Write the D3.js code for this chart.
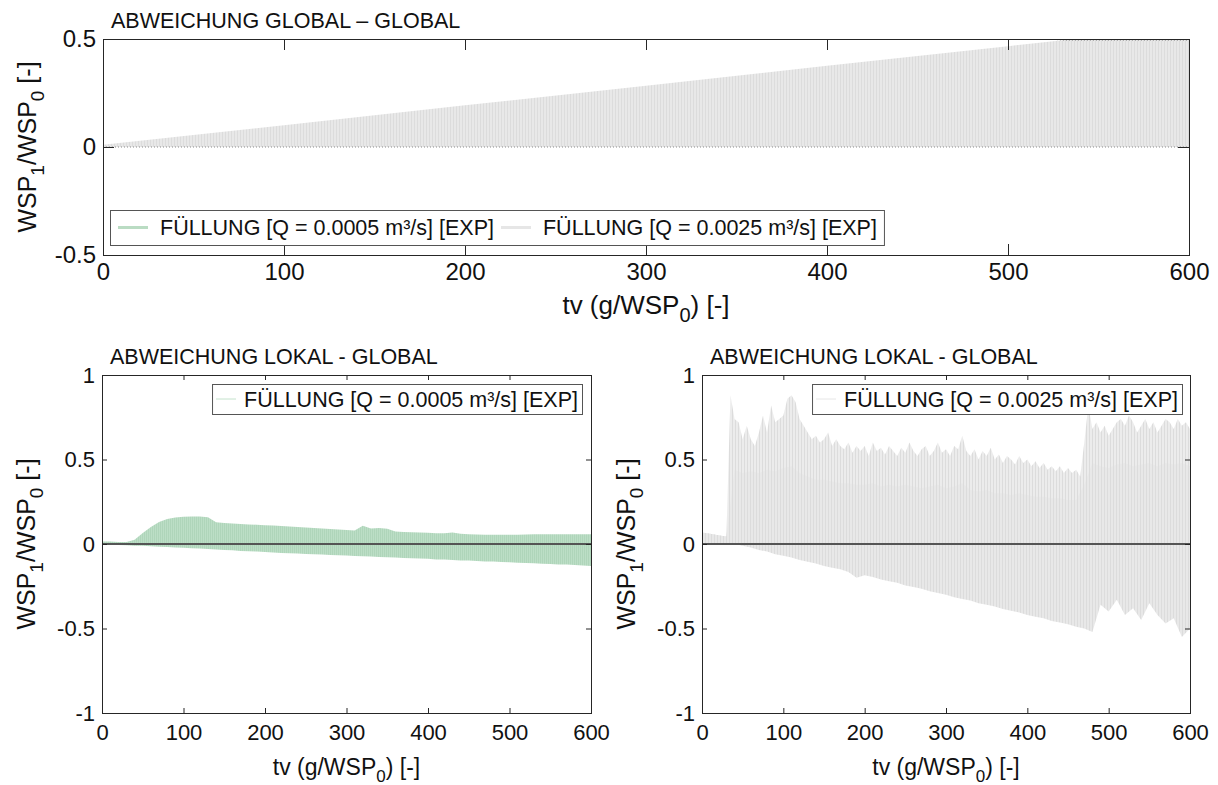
<!DOCTYPE html>
<meta charset="utf-8">
<title>Abweichung WSP</title>

<style>
body { margin: 0; background: #fff; }
svg { font-family: "Liberation Sans", Arial, Helvetica, sans-serif; }
.frame { fill: none; stroke: #262626; stroke-width: 1; }
.axis path.domain { display: none; }
.axis line { stroke: #262626; }
.axis text { font-family: "Liberation Sans", Arial, sans-serif; fill: #111; }
.lab { fill: #111; }
.ttl { font-size: 21.5px; fill: #111; }
.leg { font-size: 21.5px; fill: #111; }
</style>

<body>
<svg width="1218" height="785"></svg>

<script src="https://d3js.org/d3.v7.min.js"></script>

<script>

// ---- data ----
var xTicks = [0, 100, 200, 300, 400, 500, 600];
var yTicksTop = [-0.5, 0, 0.5];
var yTicksBottom = [-1, -0.5, 0, 0.5, 1];
var legendQ05 = "FÜLLUNG [Q = 0.0005 m³/s] [EXP]";
var legendQ25 = "FÜLLUNG [Q = 0.0025 m³/s] [EXP]";

// top panel: global deviation, Q = 0.0025 (oscillates between 0 and a rising envelope)
var tvGlobal     = [0, 100, 200, 300, 400, 500, 540, 600];
var globalHiQ25  = [0.010, 0.101, 0.193, 0.284, 0.376, 0.467, 0.503, 0.558];
var globalLoQ25  = [0, 0, 0, 0, 0, 0, 0, 0];

// bottom panels sampled every 10 (tv10) / every 5 (tv5)
var tv10 = d3.range(0, 601, 10);
var tv5 = d3.range(0, 601, 5);

// bottom left: local deviation, Q = 0.0005
var lokalHiQ05 = [
  0.015, 0.015, 0.012, 0.012, 0.025, 0.065, 0.100, 0.130, 0.148, 0.157,
  0.161, 0.163, 0.162, 0.158, 0.128, 0.124, 0.121, 0.118, 0.116, 0.114,
  0.111, 0.109, 0.107, 0.104, 0.101, 0.098, 0.095, 0.092, 0.089, 0.086,
  0.083, 0.080, 0.108, 0.092, 0.095, 0.090, 0.074, 0.071, 0.069, 0.068,
  0.066, 0.064, 0.063, 0.068, 0.060, 0.058, 0.056, 0.055, 0.054, 0.054,
  0.054, 0.055, 0.056, 0.057, 0.058, 0.058, 0.057, 0.058, 0.058, 0.057,
  0.058];
var lokalLoQ05 = [
  -0.005, -0.004, -0.006, -0.008, -0.010, -0.011, -0.014, -0.016, -0.018, -0.021,
  -0.022, -0.025, -0.027, -0.029, -0.032, -0.035, -0.037, -0.041, -0.043, -0.045,
  -0.048, -0.050, -0.053, -0.054, -0.056, -0.059, -0.060, -0.062, -0.065, -0.066,
  -0.068, -0.071, -0.072, -0.074, -0.077, -0.078, -0.080, -0.083, -0.084, -0.086,
  -0.088, -0.091, -0.092, -0.094, -0.097, -0.098, -0.100, -0.103, -0.104, -0.106,
  -0.108, -0.111, -0.112, -0.114, -0.117, -0.118, -0.121, -0.122, -0.124, -0.127,
  -0.130];

// bottom right: local deviation, Q = 0.0025
var lokalLoQ25 = [
  0, 0, 0, 0, 0, -0.010, -0.020, -0.035, -0.045, -0.060,
  -0.070, -0.080, -0.095, -0.105, -0.115, -0.130, -0.140, -0.150, -0.165, -0.200,
  -0.185, -0.195, -0.210, -0.220, -0.230, -0.245, -0.255, -0.265, -0.280, -0.290,
  -0.300, -0.315, -0.325, -0.335, -0.350, -0.360, -0.370, -0.385, -0.395, -0.405,
  -0.420, -0.430, -0.440, -0.455, -0.465, -0.475, -0.490, -0.500, -0.520, -0.360,
  -0.400, -0.330, -0.420, -0.380, -0.450, -0.350, -0.420, -0.470, -0.440, -0.550,
  -0.500];
var lokalMidQ25 = [
  0.068, 0.060, 0.052, 0.045, 0.44, 0.42, 0.43, 0.42, 0.44, 0.43,
  0.45, 0.46, 0.42, 0.40, 0.38, 0.38, 0.37, 0.36, 0.36, 0.35,
  0.35, 0.36, 0.34, 0.35, 0.34, 0.35, 0.34, 0.33, 0.34, 0.35,
  0.33, 0.34, 0.36, 0.32, 0.31, 0.32, 0.30, 0.30, 0.29, 0.30,
  0.29, 0.28, 0.28, 0.27, 0.27, 0.26, 0.26, 0.35, 0.48, 0.46,
  0.45, 0.47, 0.48, 0.46, 0.47, 0.48, 0.46, 0.48, 0.47, 0.48,
  0.46];
var lokalHiQ25 = [
  0.068, 0.064, 0.060, 0.056, 0.052, 0.048, 0.044, 0.88, 0.74, 0.72,
  0.62, 0.70, 0.62, 0.58, 0.66, 0.76, 0.66, 0.82, 0.72, 0.74,
  0.76, 0.86, 0.88, 0.84, 0.74, 0.70, 0.66, 0.62, 0.64, 0.60,
  0.62, 0.66, 0.58, 0.62, 0.58, 0.56, 0.60, 0.54, 0.58, 0.55,
  0.58, 0.52, 0.60, 0.55, 0.57, 0.53, 0.58, 0.55, 0.52, 0.57,
  0.54, 0.60, 0.55, 0.52, 0.56, 0.58, 0.52, 0.55, 0.60, 0.54,
  0.56, 0.52, 0.58, 0.56, 0.64, 0.55, 0.52, 0.56, 0.50, 0.55,
  0.52, 0.57, 0.50, 0.53, 0.48, 0.52, 0.50, 0.47, 0.52, 0.48,
  0.50, 0.46, 0.49, 0.45, 0.48, 0.44, 0.46, 0.43, 0.46, 0.42,
  0.45, 0.42, 0.44, 0.40, 0.60, 0.82, 0.68, 0.72, 0.66, 0.70,
  0.64, 0.68, 0.72, 0.74, 0.70, 0.76, 0.72, 0.66, 0.70, 0.74,
  0.68, 0.72, 0.66, 0.70, 0.74, 0.72, 0.68, 0.74, 0.70, 0.72,
  0.68];

var svg = d3.select("svg");
var defs = svg.append("defs");

function stripes(id, w, base, line) {
  var p = defs.append("pattern").attr("id", id).attr("patternUnits", "userSpaceOnUse")
    .attr("width", w).attr("height", 10);
  p.append("rect").attr("width", w).attr("height", 10).attr("fill", base);
  p.append("rect").attr("width", 1).attr("height", 10).attr("fill", line);
}
stripes("pGreen", 2, "#bcdec6", "#afd5ba");
stripes("pGrey", 3, "#e8e8e8", "#dcdcdc");
stripes("pGreySparse", 3, "#ececec", "#dcdcdc");

function makePanel(p) {
  var x = d3.scaleLinear().domain([0, 600]).range([p.left, p.left + p.w]);
  var y = d3.scaleLinear().domain(p.yDomain).range([p.top + p.h, p.top]);
  var g = svg.append("g");
  defs.append("clipPath").attr("id", "clip-" + p.id).append("rect")
    .attr("x", p.left).attr("y", p.top).attr("width", p.w).attr("height", p.h);
  var plot = g.append("g").attr("clip-path", "url(#clip-" + p.id + ")");
  return {x: x, y: y, g: g, plot: plot, p: p};
}

function finishPanel(pn) {
  var p = pn.p, g = pn.g, x = pn.x, y = pn.y;
  g.append("g").attr("class", "axis")
    .attr("transform", "translate(0," + (p.top + p.h) + ")")
    .call(d3.axisBottom(x).tickValues(xTicks).tickSize(-p.tick).tickPadding(p.xPad).tickFormat(function(d) { return d; }))
    .selectAll("text").style("font-size", p.tickFont + "px");
  g.append("g").attr("class", "axis")
    .attr("transform", "translate(0," + p.top + ")")
    .call(d3.axisTop(x).tickValues(xTicks).tickSize(-p.tick).tickFormat(""));
  g.append("g").attr("class", "axis")
    .attr("transform", "translate(" + p.left + ",0)")
    .call(d3.axisLeft(y).tickValues(p.yTicks).tickSize(-p.tick).tickPadding(7).tickFormat(function(d) { return String(d); }))
    .selectAll("text").style("font-size", p.tickFont + "px");
  g.append("g").attr("class", "axis")
    .attr("transform", "translate(" + (p.left + p.w) + ",0)")
    .call(d3.axisRight(y).tickValues(p.yTicks).tickSize(-p.tick).tickFormat(""));
  g.append("rect").attr("class", "frame")
    .attr("x", p.left + 0.5).attr("y", p.top + 0.5).attr("width", p.w).attr("height", p.h);

  // title
  g.append("text").attr("class", "ttl").attr("x", p.left + 8).attr("y", p.top - 11).text(p.title);

  // x label
  var fs = p.xLabFont, sub = Math.round(fs * 0.75);
  var tx = g.append("text").attr("class", "lab").style("font-size", fs + "px").attr("text-anchor", "middle")
    .attr("x", p.left + p.w / 2).attr("y", p.top + p.h + p.xLab);
  tx.append("tspan").text("tv (g/WSP");
  tx.append("tspan").attr("dy", fs * 0.32).style("font-size", sub + "px").text("0");
  tx.append("tspan").attr("dy", -fs * 0.32).text(") [-]");

  // y label
  var ys = 25, ysub = 19;
  var ty = g.append("text").attr("class", "lab").style("font-size", ys + "px").attr("text-anchor", "middle")
    .attr("transform", "translate(" + (p.left - 67) + "," + (p.top + p.h / 2) + ") rotate(-90)");
  ty.append("tspan").text("WSP");
  ty.append("tspan").attr("dy", 8).style("font-size", ysub + "px").text("1");
  ty.append("tspan").attr("dy", -8).text("/WSP");
  ty.append("tspan").attr("dy", 8).style("font-size", ysub + "px").text("0");
  ty.append("tspan").attr("dy", -8).text(" [-]");
}

function legend(g, x0, y0, h, o, items, alignRight) {
  var lg = g.append("g");
  var box = lg.append("rect").attr("fill", "#fff").attr("stroke", "#555").attr("stroke-width", 1);
  var cx = x0 + o.pad;
  items.forEach(function(it) {
    lg.append("line").attr("x1", cx).attr("x2", cx + o.len).attr("y1", y0 + h / 2).attr("y2", y0 + h / 2)
      .attr("stroke", it.color).attr("stroke-width", it.width);
    var t = lg.append("text").attr("class", "leg").attr("x", cx + o.len + o.gap).attr("y", y0 + h / 2 + 7.5).text(it.label);
    cx = cx + o.len + o.gap + t.node().getComputedTextLength() + o.after;
  });
  var w = cx - x0;
  box.attr("x", x0 + 0.5).attr("y", y0 + 0.5).attr("width", w).attr("height", h);
  if (alignRight) lg.attr("transform", "translate(" + (alignRight - (x0 + w)) + ",0)");
}

// ---- top panel ----
var pTop = makePanel({id: "top", left: 103, top: 39, w: 1086, h: 216, yDomain: [-0.5, 0.5], yTicks: yTicksTop,
  tick: 11, xPad: 8, xLab: 59, tickFont: 24, xLabFont: 26, title: "ABWEICHUNG GLOBAL – GLOBAL"});

var areaTop = d3.area()
  .x(function(d, i) { return pTop.x(tvGlobal[i]); })
  .y0(function(d, i) { return pTop.y(globalLoQ25[i]); })
  .y1(function(d, i) { return pTop.y(globalHiQ25[i]); });
var topPath = areaTop(globalHiQ25);
pTop.plot.append("path").attr("d", topPath).attr("fill", "url(#pGrey)");
defs.append("clipPath").attr("id", "clip-toparea").append("path").attr("d", topPath);
pTop.plot.append("line").attr("x1", pTop.x(0)).attr("x2", pTop.x(600)).attr("y1", pTop.y(0)).attr("y2", pTop.y(0))
  .attr("stroke", "#8a8a8a").attr("stroke-dasharray", "1,2");
pTop.plot.append("line").attr("clip-path", "url(#clip-toparea)")
  .attr("x1", pTop.x(0)).attr("x2", pTop.x(600)).attr("y1", pTop.y(0.5) + 1.5).attr("y2", pTop.y(0.5) + 1.5)
  .attr("stroke", "#b0b0b0").attr("stroke-dasharray", "1,2");
finishPanel(pTop);
legend(pTop.g, 110, 210, 35, {pad: 8, len: 30, gap: 12, after: 7}, [
  {label: legendQ05, color: "#badcc3", width: 3},
  {label: legendQ25, color: "#e6e6e6", width: 3}
]);

// ---- bottom left ----
var pBL = makePanel({id: "bl", left: 102, top: 375, w: 489, h: 338, yDomain: [-1, 1], yTicks: yTicksBottom,
  tick: 5, xPad: 11, xLab: 62, tickFont: 22, xLabFont: 23, title: "ABWEICHUNG LOKAL - GLOBAL"});
var areaBL = d3.area()
  .x(function(d, i) { return pBL.x(tv10[i]); })
  .y0(function(d, i) { return pBL.y(lokalLoQ05[i]); })
  .y1(function(d, i) { return pBL.y(lokalHiQ05[i]); });
pBL.plot.append("path").attr("d", areaBL(lokalHiQ05)).attr("fill", "url(#pGreen)");
pBL.plot.append("line").attr("x1", pBL.x(0)).attr("x2", pBL.x(600)).attr("y1", pBL.y(0)).attr("y2", pBL.y(0))
  .attr("stroke", "#555").attr("stroke-width", 2);
finishPanel(pBL);
legend(pBL.g, 218, 384, 30, {pad: 4, len: 20, gap: 8, after: 4},
  [{label: legendQ05, color: "#c4e2cc", width: 1}], 582);

// ---- bottom right ----
var pBR = makePanel({id: "br", left: 702, top: 375, w: 488, h: 338, yDomain: [-1, 1], yTicks: yTicksBottom,
  tick: 5, xPad: 11, xLab: 62, tickFont: 22, xLabFont: 23, title: "ABWEICHUNG LOKAL - GLOBAL"});
var areaSpikes = d3.area()
  .x(function(d, i) { return pBR.x(tv5[i]); })
  .y0(pBR.y(0))
  .y1(function(d, i) { return pBR.y(lokalHiQ25[i]); });
pBR.plot.append("path").attr("d", areaSpikes(lokalHiQ25)).attr("fill", "url(#pGreySparse)");
var areaDense = d3.area()
  .x(function(d, i) { return pBR.x(tv10[i]); })
  .y0(function(d, i) { return pBR.y(lokalLoQ25[i]); })
  .y1(function(d, i) { return pBR.y(lokalMidQ25[i]); });
pBR.plot.append("path").attr("d", areaDense(lokalMidQ25)).attr("fill", "url(#pGrey)");
pBR.plot.append("line").attr("x1", pBR.x(0)).attr("x2", pBR.x(600)).attr("y1", pBR.y(0)).attr("y2", pBR.y(0))
  .attr("stroke", "#555").attr("stroke-width", 2);
finishPanel(pBR);
legend(pBR.g, 818, 384, 30, {pad: 4, len: 20, gap: 8, after: 4},
  [{label: legendQ25, color: "#e6e6e6", width: 1}], 1182);

</script>
</body>
